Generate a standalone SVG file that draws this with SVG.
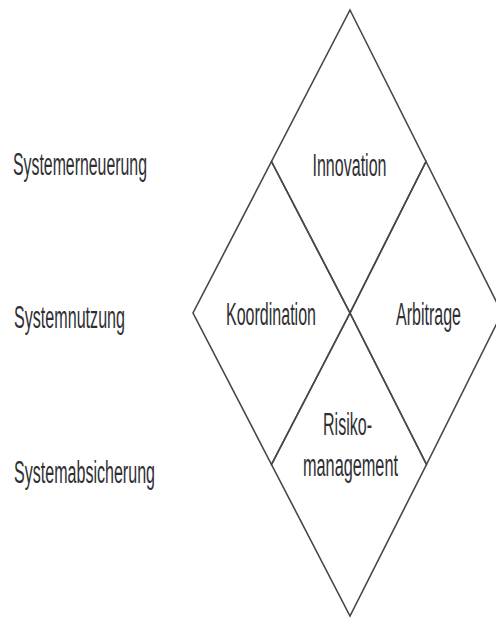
<svg xmlns="http://www.w3.org/2000/svg" width="496" height="621" viewBox="0 0 496 621">
  <style>
    .cell { fill: none; stroke: #4a4744; stroke-width: 1.6; stroke-linejoin: miter; }
    .lbl { font-family: "Liberation Sans", Arial, sans-serif; font-size: 16px; fill: #2f2f33; }
  </style>
  <rect width="496" height="621" fill="#ffffff"/>
  <g id="innovation">
    <polygon class="cell" points="350,10 426,161.5 350,313 271.5,161.5"/>
    <text class="lbl" transform="translate(312.5,176) scale(1,1.94)" textLength="74" lengthAdjust="spacingAndGlyphs">Innovation</text>
  </g>
  <g id="koordination">
    <polygon class="cell" points="271.5,161.5 350,313 271.5,464.5 193,313"/>
    <text class="lbl" transform="translate(226,325) scale(1,1.94)" textLength="90" lengthAdjust="spacingAndGlyphs">Koordination</text>
  </g>
  <g id="arbitrage">
    <polygon class="cell" points="426,161.5 502,313 426.5,464.5 350,313"/>
    <text class="lbl" transform="translate(396,325) scale(1,1.94)" textLength="65" lengthAdjust="spacingAndGlyphs">Arbitrage</text>
  </g>
  <g id="risikomanagement">
    <polygon class="cell" points="350,313 426.5,464.5 350,616 271.5,464.5"/>
    <text class="lbl" transform="translate(323,435) scale(1,1.94)" textLength="49" lengthAdjust="spacingAndGlyphs">Risiko-</text>
    <text class="lbl" transform="translate(303,476) scale(1,1.94)" textLength="95" lengthAdjust="spacingAndGlyphs">management</text>
  </g>
  <g id="systemerneuerung">
    <text class="lbl" transform="translate(13,175) scale(1,1.94)" textLength="134" lengthAdjust="spacingAndGlyphs">Systemerneuerung</text>
  </g>
  <g id="systemnutzung">
    <text class="lbl" transform="translate(14,328) scale(1,1.94)" textLength="111" lengthAdjust="spacingAndGlyphs">Systemnutzung</text>
  </g>
  <g id="systemabsicherung">
    <text class="lbl" transform="translate(14,483) scale(1,1.94)" textLength="141" lengthAdjust="spacingAndGlyphs">Systemabsicherung</text>
  </g>
  <g id="connectors"></g>
</svg>
